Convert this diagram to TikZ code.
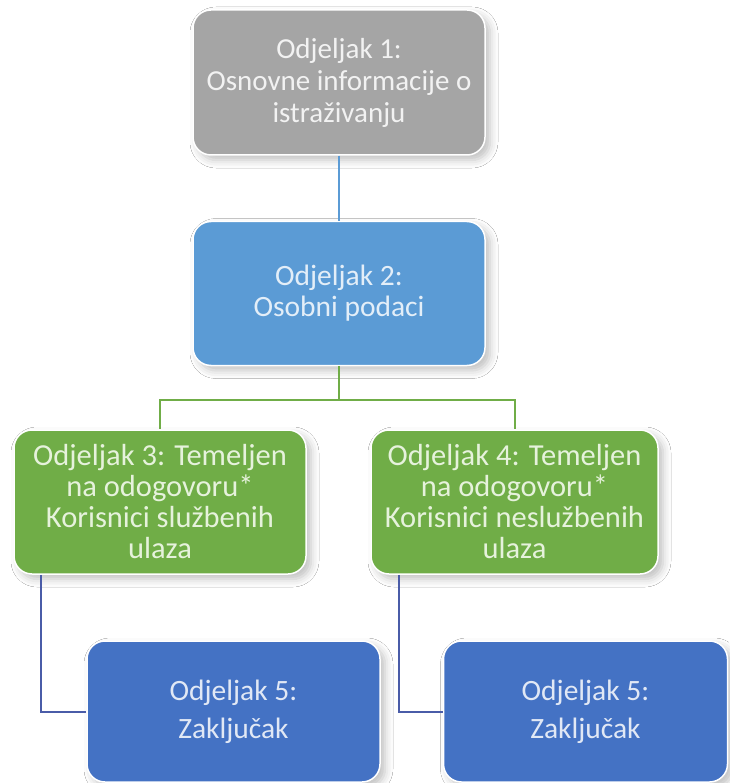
\documentclass[tikz,border=0pt]{standalone}
\usepackage{fontspec}
\setmainfont{Carlito}
\usetikzlibrary{shadows.blur}
\definecolor{grayfill}{HTML}{A5A5A5}
\definecolor{graytext}{HTML}{F2F2F2}
\definecolor{bluefill}{HTML}{5B9BD5}
\definecolor{bluetext}{HTML}{E3EEF8}
\definecolor{greenfill}{HTML}{70AD47}
\definecolor{greentext}{HTML}{E6F2DC}
\definecolor{dbluefill}{HTML}{4472C4}
\definecolor{dbluetext}{HTML}{E1E8F5}
\definecolor{dblueline}{HTML}{4A5CA8}
\begin{document}
\begin{tikzpicture}[x=1pt,y=-1pt,
  box/.style={rounded corners=18pt, draw=white, line width=1.5pt, align=center, inner sep=0pt,
    blur shadow={shadow xshift=5pt, shadow yshift=-5pt, shadow blur radius=8pt, shadow opacity=25}},
  graybox/.style={box, fill=grayfill, text=graytext, font=\fontsize{29}{32}\selectfont},
  lbluebox/.style={box, fill=bluefill, text=bluetext, font=\fontsize{29.5}{31}\selectfont},
  greenbox/.style={box, fill=greenfill, text=greentext, font=\fontsize{30.5}{31}\selectfont},
  dbluebox/.style={box, fill=dbluefill, text=dbluetext, font=\fontsize{29.5}{38}\selectfont},
  conn/.style={line width=2pt}]
\useasboundingbox[fill=white] (0,0) rectangle (729,783);

\node[graybox, minimum width=292, minimum height=145] (b1) at (339,82.5)
  {Odjeljak 1:\\Osnovne informacije o\\istraživanju};
\node[lbluebox, minimum width=292, minimum height=144] (b2) at (339,293.5)
  {Odjeljak 2:\\Osobni podaci};
\node[greenbox, minimum width=292, minimum height=144] (b3) at (160,502)
  {Odjeljak 3: Temeljen\\na odogovoru*\\Korisnici službenih\\ulaza};
\node[greenbox, minimum width=287, minimum height=144] (b4) at (514.5,502)
  {Odjeljak 4: Temeljen\\na odogovoru*\\Korisnici neslužbenih\\ulaza};
\node[dbluebox, minimum width=293, minimum height=141] (b5) at (233.5,711.5)
  {Odjeljak 5:\\Zaključak};
\node[dbluebox, minimum width=284, minimum height=141] (b6) at (585.5,711.5)
  {Odjeljak 5:\\Zaključak};

\draw[conn, bluefill] (b1.south) -- (b2.north);
\draw[conn, greenfill] (b2.south) -- ++(0,33.5) coordinate (g) -| (b3.north);
\draw[conn, greenfill] (g) -| (b4.north);
\draw[conn, dblueline] (b3.south west) ++(28,0) |- (b5.west);
\draw[conn, dblueline] (b4.south west) ++(29,0) |- (b6.west);
\end{tikzpicture}
\end{document}
